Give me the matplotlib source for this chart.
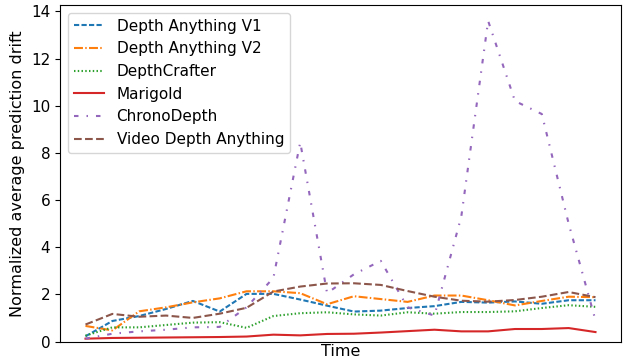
import numpy as np
import matplotlib
matplotlib.use('Agg')
import matplotlib.pyplot as plt

# per-frame drift values (20 time steps)
depth_anything_v1 = [0.22, 0.87, 1.08, 1.38, 1.72, 1.27, 2.02, 2.02, 1.78, 1.52,
                     1.27, 1.31, 1.42, 1.5, 1.68, 1.65, 1.7, 1.6, 1.75, 1.75]
depth_anything_v2 = [0.66, 0.47, 1.28, 1.45, 1.66, 1.83, 2.13, 2.13, 2.05, 1.58,
                     1.92, 1.8, 1.68, 1.95, 1.95, 1.75, 1.53, 1.72, 1.9, 1.88]
depthcrafter = [0.25, 0.6, 0.6, 0.7, 0.8, 0.82, 0.58, 1.08, 1.2, 1.24,
                1.15, 1.1, 1.24, 1.18, 1.25, 1.25, 1.28, 1.42, 1.54, 1.47]
marigold = [0.12, 0.15, 0.16, 0.17, 0.18, 0.19, 0.21, 0.29, 0.26, 0.32,
            0.33, 0.38, 0.44, 0.5, 0.43, 0.43, 0.53, 0.53, 0.57, 0.4]
chronodepth = [0.12, 0.33, 0.43, 0.5, 0.6, 0.62, 1.45, 2.7, 8.45, 2.05,
               2.85, 3.42, 1.45, 1.1, 5.3, 13.6, 10.2, 9.65, 5.0, 0.9]
video_depth_anything = [0.72, 1.17, 1.05, 1.1, 1.0, 1.18, 1.43, 2.12, 2.33, 2.46,
                        2.47, 2.4, 2.14, 1.9, 1.73, 1.69, 1.76, 1.9, 2.1, 1.88]

labels = ['Depth Anything V1', 'Depth Anything V2', 'DepthCrafter',
          'Marigold', 'ChronoDepth', 'Video Depth Anything']
series = [depth_anything_v1, depth_anything_v2, depthcrafter,
          marigold, chronodepth, video_depth_anything]
styles = [(0, (2.5, 1.1)), (0, (4.3, 1.1, 0.7, 1.1)), (0, (0.7, 1.1)),
          '-', (0, (2.15, 3.85, 0.7, 3.85)), (0, (3.7, 1.6))]
colors = ['tab:blue', 'tab:orange', 'tab:green', 'tab:red', 'tab:purple', 'tab:brown']

fig, ax = plt.subplots(figsize=(6.26, 3.62), dpi=100)
fig.subplots_adjust(left=60/626, right=621/626, bottom=1-341.5/362, top=1-5/362)

t = np.arange(len(marigold))
for y, lab, ls, c in zip(series, labels, styles, colors):
    ax.plot(t, y, linestyle=ls, color=c, linewidth=1.5, label=lab)

ax.set_ylim(bottom=0)
ax.set_xticks([])
ax.set_xlabel('Time', fontsize=11.5, labelpad=2)
ax.set_ylabel('Normalized average prediction drift', fontsize=11.5)
ax.tick_params(axis='y', labelsize=11)
ax.legend(loc='upper left', fontsize=11)

fig.savefig('out.png', dpi=100)
